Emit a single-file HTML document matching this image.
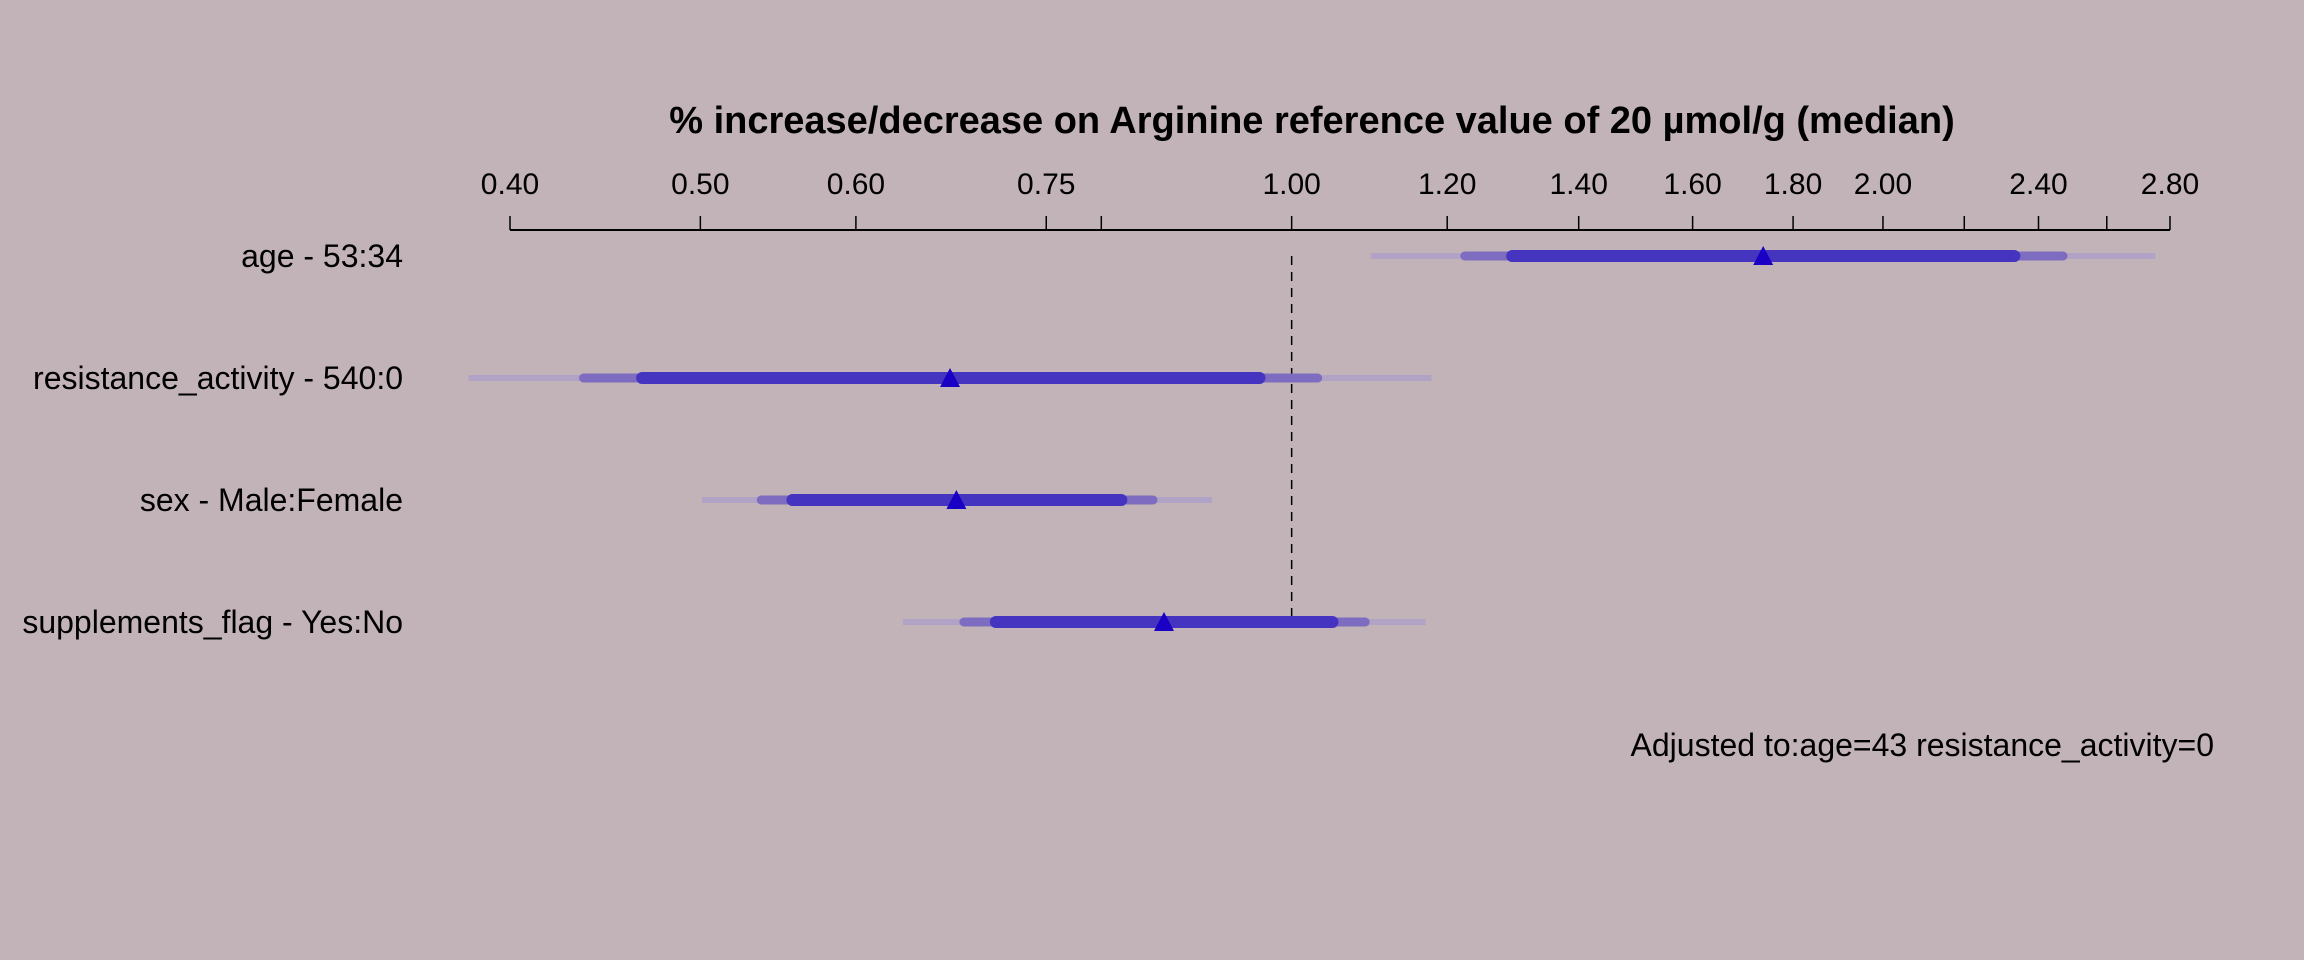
<!DOCTYPE html>
<html><head><meta charset="utf-8"><style>
html,body{margin:0;padding:0;background:#c2b3b8;}
svg{display:block;font-family:"Liberation Sans",sans-serif;}
</style></head><body>
<svg id="chart" width="2304" height="960" viewBox="0 0 2304 960">
<rect width="2304" height="960" fill="#c2b3b8"/>
<text x="1312" y="133" text-anchor="middle" font-size="38" font-weight="bold">% increase/decrease on Arginine reference value of 20 µmol/g (median)</text>
<g id="axis"></g>
<g id="rows"></g>
<text x="2214" y="756" text-anchor="end" font-size="32">Adjusted to:age=43 resistance_activity=0</text>
</svg>
<script>
const categories=["age - 53:34","resistance_activity - 540:0","sex - Male:Female","supplements_flag - Yes:No"];
const estimate=[1.738,0.670,0.675,0.861];
const low95=[1.097,0.381,0.501,0.634];
const high95=[2.753,1.178,0.911,1.170];
const low90=[1.225,0.436,0.537,0.681];
const high90=[2.470,1.031,0.850,1.090];
const low80=[1.295,0.467,0.557,0.707];
const high80=[2.333,0.963,0.819,1.049];
const tickValues=[0.4,0.5,0.6,0.75,0.8,1.0,1.2,1.4,1.6,1.8,2.0,2.2,2.4,2.6,2.8];
const tickLabels=["0.40","0.50","0.60","0.75","","1.00","1.20","1.40","1.60","1.80","2.00","","2.40","","2.80"];
const NS="http://www.w3.org/2000/svg";
const X0=510,X1=2170,LMIN=Math.log(0.4),LMAX=Math.log(2.8);
function xs(v){return X0+(Math.log(v)-LMIN)/(LMAX-LMIN)*(X1-X0);}
function ys(i){return 256+i*122;}
function mk(tag,attrs,parent){const e=document.createElementNS(NS,tag);for(const k in attrs)e.setAttribute(k,attrs[k]);parent.appendChild(e);return e;}
const ax=document.getElementById('axis');
let l=mk('line',{x1:X0,x2:X1,y1:230,y2:230,stroke:'#000','stroke-width':2},ax);


tickValues.forEach((v,i)=>{
  const t=mk('line',{x1:xs(v),x2:xs(v),y1:216,y2:230,stroke:'#000','stroke-width':1.5},ax);
  
  
  if(tickLabels[i]){
    const tx=mk('text',{x:xs(v),y:194,'text-anchor':'middle','font-size':30},ax);
    tx.textContent=tickLabels[i];
    
    
  }
});
const rows=document.getElementById('rows');
const ref=mk('line',{x1:xs(1),x2:xs(1),y1:256,y2:622,stroke:'#000','stroke-width':1.5,'stroke-dasharray':'9,7'},rows);


categories.forEach((c,i)=>{
  const y=ys(i);
  const lab=mk('text',{x:403,y:y+11,'text-anchor':'end','font-size':32},rows);
  lab.textContent=c;
  
  
  const a=mk('line',{x1:xs(low95[i]),x2:xs(high95[i]),y1:y,y2:y,stroke:'#b1a3c6','stroke-width':6},rows);
  
  
  const b=mk('line',{x1:xs(low90[i]),x2:xs(high90[i]),y1:y,y2:y,stroke:'#7d6cc0','stroke-width':9,'stroke-linecap':'round'},rows);
  
  
  const d=mk('line',{x1:xs(low80[i]),x2:xs(high80[i]),y1:y,y2:y,stroke:'#4434c0','stroke-width':12,'stroke-linecap':'round'},rows);
  
  
  const px=xs(estimate[i]);
  const p=mk('polygon',{points:`${px-10},${y+9} ${px+10},${y+9} ${px},${y-10}`,fill:'#1a00c4'},rows);
  
  
});
</script>
</body></html>
